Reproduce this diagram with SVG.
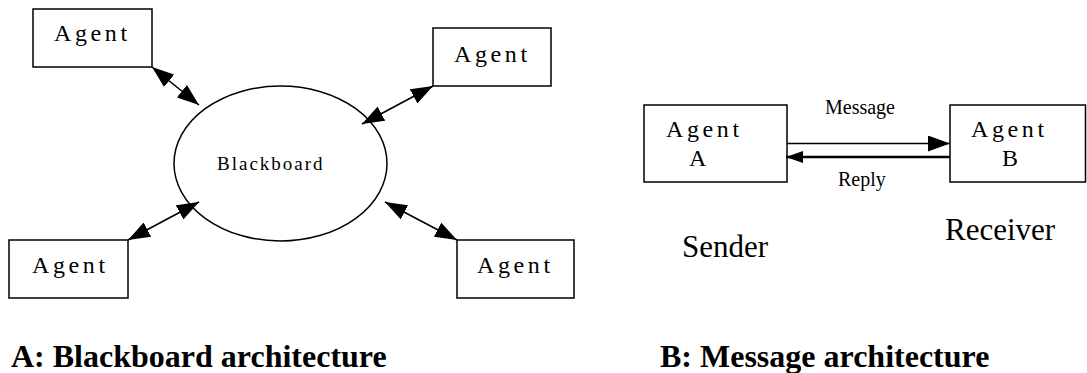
<svg xmlns="http://www.w3.org/2000/svg" width="1087" height="373" viewBox="0 0 1087 373">
<style>
.box{fill:#fff;stroke:#000;stroke-width:1.5}
.t{font-family:"Liberation Serif","Times New Roman",serif;fill:#000}
.ag{font-size:24px;letter-spacing:3.6px}
.lbl{font-size:20px}
.big{font-size:31px}
.title{font-size:32px;font-weight:bold}
.conn{stroke:#000;stroke-width:1.6;fill:none}
</style>
<defs>
<marker id="ah" markerUnits="userSpaceOnUse" viewBox="0 0 22 16" markerWidth="22" markerHeight="16" refX="22" refY="8" orient="auto-start-reverse">
<path d="M0,0 L22,8 L0,16 z" fill="#000"/>
</marker>
<marker id="ahs" markerUnits="userSpaceOnUse" viewBox="0 0 17 12" markerWidth="17" markerHeight="12" refX="17" refY="6" orient="auto">
<path d="M0,0 L17,6 L0,12 z" fill="#000"/>
</marker>
</defs>
<g id="blackboard">
<ellipse cx="280.5" cy="163.5" rx="106.5" ry="77.5" fill="#fff" stroke="#000" stroke-width="1.5"/>
<text class="t" x="217" y="170" font-size="19" letter-spacing="2">Blackboard</text>
</g>
<g id="agent-tl">
<rect class="box" x="33" y="9" width="119" height="58"/>
<text class="t ag" x="54" y="41">Agent</text>
</g>
<g id="agent-tr">
<rect class="box" x="433" y="28" width="118" height="58"/>
<text class="t ag" x="454" y="62">Agent</text>
</g>
<g id="agent-bl">
<rect class="box" x="9" y="240" width="119" height="58"/>
<text class="t ag" x="32" y="273">Agent</text>
</g>
<g id="agent-br">
<rect class="box" x="457" y="240" width="117" height="58"/>
<text class="t ag" x="477" y="273">Agent</text>
</g>
<g id="agent-a">
<rect class="box" x="644" y="105" width="143" height="77"/>
<text class="t ag" x="666" y="137">Agent</text>
<text class="t" x="689" y="166" font-size="24">A</text>
</g>
<g id="agent-b">
<rect class="box" x="950" y="105" width="135.5" height="77"/>
<text class="t ag" x="971" y="137">Agent</text>
<text class="t" x="1002" y="166" font-size="24">B</text>
</g>
<g id="connectors">
<line class="conn" x1="152" y1="67" x2="199" y2="105" marker-start="url(#ah)" marker-end="url(#ah)"/>
<line class="conn" x1="433" y1="86" x2="362" y2="124" marker-start="url(#ah)" marker-end="url(#ah)"/>
<line class="conn" x1="128" y1="240" x2="199" y2="202" marker-start="url(#ah)" marker-end="url(#ah)"/>
<line class="conn" x1="457" y1="240" x2="385" y2="202" marker-start="url(#ah)" marker-end="url(#ah)"/>
<line class="conn" x1="787" y1="143.5" x2="950" y2="143.5" marker-end="url(#ah)"/>
<line x1="950" y1="157" x2="786" y2="157" stroke="#000" stroke-width="2.5" marker-end="url(#ahs)"/>
</g>
<g id="labels">
<text class="t lbl" x="825" y="114">Message</text>
<text class="t lbl" x="838" y="186">Reply</text>
<text class="t big" x="682" y="257">Sender</text>
<text class="t big" x="945" y="240">Receiver</text>
<text class="t title" x="11" y="367">A: Blackboard architecture</text>
<text class="t title" x="660" y="367">B: Message architecture</text>
</g>
</svg>
